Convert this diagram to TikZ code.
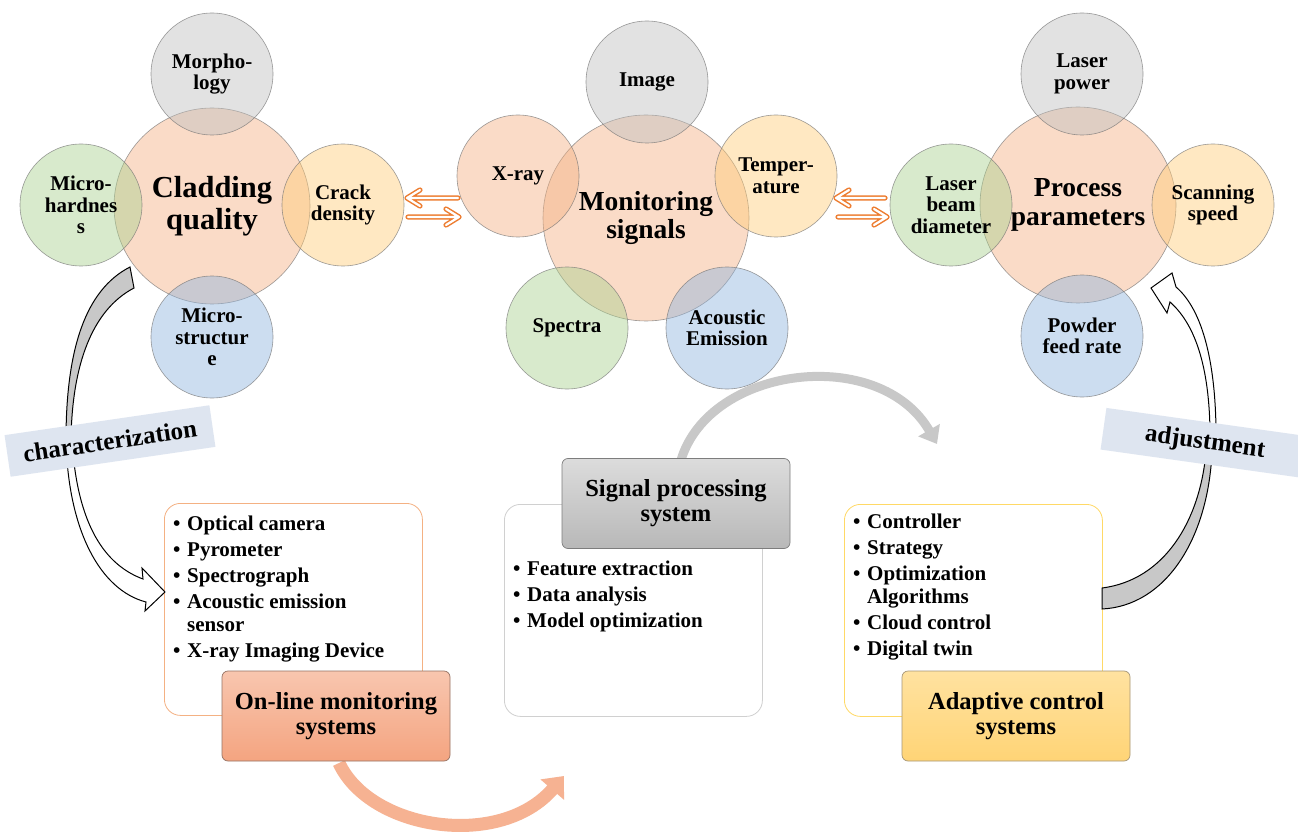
\documentclass[tikz,border=0pt]{standalone}
\usepackage{fontspec}
\setmainfont{Liberation Serif}
\usetikzlibrary{arrows.meta,calc}
\definecolor{salmonC}{RGB}{244,177,131}
\definecolor{grayC}{RGB}{191,191,191}
\definecolor{greenC}{RGB}{169,209,142}
\definecolor{yellowC}{RGB}{255,204,120}
\definecolor{blueC}{RGB}{143,180,222}
\definecolor{arrowOrange}{RGB}{237,125,49}
\definecolor{bandC}{RGB}{222,229,240}
\definecolor{onBorder}{RGB}{244,177,131}
\definecolor{spBorder}{RGB}{208,208,208}
\definecolor{acBorder}{RGB}{255,217,102}
\definecolor{salArc}{RGB}{246,178,146}
\definecolor{grayArc}{RGB}{200,200,200}
\definecolor{blkGray}{RGB}{200,200,200}
\newcommand{\lbul}{\makebox[14pt][l]{\textbullet}}
\begin{document}
\begin{tikzpicture}[x=1pt,y=-1pt,
  bub/.style={circle, inner sep=0pt, minimum size=122pt, draw=black!55, draw opacity=0.7,
    line width=0.6pt, fill opacity=0.45, text opacity=1, align=center,
    font=\bfseries\fontsize{21}{21.5}\selectfont},
  hub/.style={bub, minimum size=196pt, font=\bfseries\fontsize{27.5}{28.5}\selectfont},
  dblout/.style={draw=arrowOrange, line width=5.2pt, line cap=round, line join=round},
  dblin/.style={draw=white, line width=2.2pt, line cap=round, line join=round},
  outerbox/.style={rounded corners=16pt, fill=white, line width=0.8pt, inner sep=0pt,
    minimum width=258pt, minimum height=212pt, anchor=north west},
  titlebox/.style={rounded corners=6pt, line width=0.7pt, inner sep=0pt,
    minimum width=228pt, minimum height=90pt, align=center,
    font=\bfseries\fontsize{24.5}{25}\selectfont},
  listtext/.style={inner sep=0pt, align=left, anchor=base west,
    font=\bfseries\fontsize{21}{23}\selectfont},
  band/.style={fill=bandC, inner sep=0pt, minimum height=42pt,
    font=\bfseries\fontsize{25}{25}\selectfont},
  blk/.style={draw=black, line width=1pt, line join=miter},
  arcline/.style={line cap=butt}
]
\useasboundingbox (0,0) rectangle (1298,834);
\fill[white] (0,0) rectangle (1298,834);

% ---------- Cladding quality ----------
\node[hub, fill=salmonC, font=\bfseries\fontsize{30.5}{32}\selectfont] (cq) at (212,206) {Cladding\\quality};
\node[bub, fill=grayC] (morph) at (212,74) {Morpho-\\logy};
\node[bub, fill=greenC] (mhard) at (81,205) {Micro-\\hardnes\\s};
\node[bub, fill=yellowC] (crack) at (343,205) {Crack\\density};
\node[bub, fill=blueC] (mstruct) at (212,337) {Micro-\\structur\\e};

% ---------- Monitoring signals ----------
\node[hub, fill=salmonC, minimum size=206pt] (ms) at (646,218) {Monitoring\\signals};
\node[bub, fill=grayC] (img) at (647,82) {Image};
\node[bub, fill=salmonC] (xray) at (518,176) {X-ray};
\node[bub, fill=yellowC] (temp) at (776,176) {Temper-\\ature};
\node[bub, fill=greenC] (spec) at (567,328) {Spectra};
\node[bub, fill=blueC] (ae) at (727,328) {Acoustic\\Emission};

% ---------- Process parameters ----------
\node[hub, fill=salmonC] (pp) at (1078,205) {Process\\parameters};
\node[bub, fill=grayC] (lp) at (1082,74) {Laser\\power};
\node[bub, fill=greenC] (lbd) at (951,205) {Laser\\beam\\diameter};
\node[bub, fill=yellowC] (ss) at (1213,205) {Scanning\\speed};
\node[bub, fill=blueC] (pfr) at (1082,336) {Powder\\feed rate};

% ---------- hollow double arrows ----------
\coordinate (d1s) at (458,198); \coordinate (d1e) at (407,198);
\coordinate (d2s) at (408,217); \coordinate (d2e) at (459,217);
\coordinate (d3s) at (885,198); \coordinate (d3e) at (836,198);
\coordinate (d4s) at (838,217); \coordinate (d4e) at (887,217);
\foreach \st in {dblout,dblin}{
  \draw[\st] (d1s) -- (d1e) ([shift={(13,-8)}]d1e) -- (d1e) -- ([shift={(13,8)}]d1e);
  \draw[\st] (d2s) -- (d2e) ([shift={(-13,-8)}]d2e) -- (d2e) -- ([shift={(-13,8)}]d2e);
  \draw[\st] (d3s) -- (d3e) ([shift={(13,-8)}]d3e) -- (d3e) -- ([shift={(13,8)}]d3e);
  \draw[\st] (d4s) -- (d4e) ([shift={(-13,-8)}]d4e) -- (d4e) -- ([shift={(-13,8)}]d4e);
}

% ---------- outer boxes ----------
\node[outerbox, draw=onBorder] (onbox) at (164,503) {};
\node[outerbox, draw=spBorder] (spbox) at (504,504) {};
\node[outerbox, draw=acBorder] (acbox) at (844,504) {};

% ---------- lists (anchored at the baseline of the last line) ----------
\node[listtext] (onlist) at (173,657) {\lbul Optical camera\\[3pt]\lbul Pyrometer\\[3pt]\lbul Spectrograph\\[3pt]\lbul Acoustic emission\\\hspace*{14pt}sensor\\[3pt]\lbul X-ray Imaging Device};
\node[listtext] (splist) at (513,627) {\lbul Feature extraction\\[3pt]\lbul Data analysis\\[3pt]\lbul Model optimization};
\node[listtext] (aclist) at (853,655) {\lbul Controller\\[3pt]\lbul Strategy\\[3pt]\lbul Optimization\\\hspace*{14pt}Algorithms\\[3pt]\lbul Cloud control\\[3pt]\lbul Digital twin};

% ---------- big arcs ----------
\coordinate (stip) at (564,776);
\coordinate (gtip) at (937,444);
\draw[arcline, draw=salArc, line width=13pt, -{Triangle[length=18pt,width=30pt]}]
  ([xshift=3pt,yshift=-2pt]336,761) .. controls (370,830) and (500,850) .. (stip);
\draw[arcline, draw=grayArc, line width=9pt, -{Triangle[length=16pt,width=24pt]}]
  (681,460) .. controls (710,365) and (880,345) .. (gtip);

% ---------- title boxes ----------
\node[titlebox, draw={rgb,255:red,150;green,115;blue,100}, top color={rgb,255:red,248;green,198;blue,175}, bottom color={rgb,255:red,244;green,164;blue,128}] (ontitle) at (336,716) {On-line monitoring\\systems};
\node[titlebox, draw={rgb,255:red,125;green,125;blue,125}, top color={rgb,255:red,220;green,220;blue,220}, bottom color={rgb,255:red,184;green,184;blue,184}] (sptitle) at (676,503.5) {Signal processing\\system};
\node[titlebox, draw={rgb,255:red,165;green,150;blue,120}, top color={rgb,255:red,255;green,226;blue,160}, bottom color={rgb,255:red,255;green,212;blue,118}] (actitle) at (1016,716) {Adaptive control\\systems};

% ---------- block arrows ----------
\filldraw[blk, fill=blkGray] (130,267) .. controls (85,290) and (66,350) .. (66,440)
  -- (71,440) .. controls (72,365) and (92,310) .. (134,288) -- cycle;
\filldraw[blk, fill=white] (66,440) .. controls (68,530) and (100,590) .. (146,602)
  -- (145,611) -- (165,592) -- (142,568) -- (143,579)
  .. controls (105,565) and (77,525) .. (72,440) -- cycle;

\filldraw[blk, fill=blkGray] (1102,588) .. controls (1165,580) and (1200,520) .. (1206,452)
  -- (1212,452) .. controls (1208,540) and (1165,606) .. (1102,609) -- cycle;
\filldraw[blk, fill=white] (1210,445) .. controls (1211,370) and (1196,325) .. (1170,302)
  -- (1167,313) -- (1151,288) -- (1172,273) -- (1176,287)
  .. controls (1203,310) and (1217,365) .. (1216,445) -- cycle;

% ---------- bands ----------
\node[band, rotate=8.3, minimum width=207pt] (charband) at (110,441) {characterization};
\node[band, rotate=-8, minimum width=205pt] (adjband) at (1205,443) {adjustment};
\end{tikzpicture}
\end{document}
